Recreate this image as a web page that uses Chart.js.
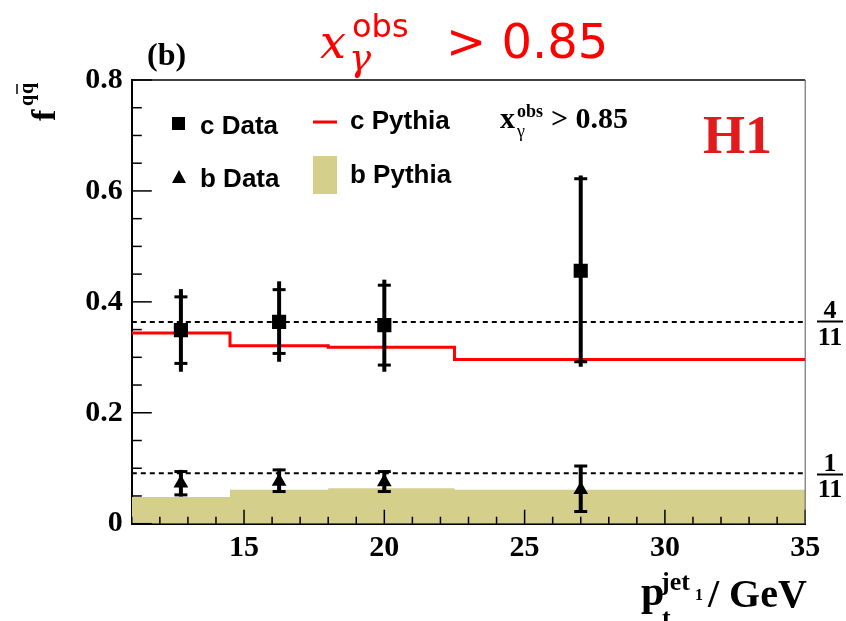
<!DOCTYPE html>
<html><head><meta charset="utf-8">
<script src="https://cdn.jsdelivr.net/npm/chart.js@4.4.0/dist/chart.umd.min.js"></script>
<style>html,body{margin:0;padding:0;background:#fff}#wrap{width:846px;height:621px;position:relative}</style>
</head><body><div id="wrap"><canvas id="c" width="846" height="621"></canvas></div>
<script>
// ---- data ----
const xTickLabels = [15, 20, 25, 30, 35];
const yTickLabels = [0, 0.2, 0.4, 0.6, 0.8];
const binEdges = [11, 14.5, 18, 22.5, 35];
const cPythia = [0.344, 0.321, 0.318, 0.296];
const bPythia = [0.048, 0.061, 0.064, 0.061];
const dataX = [12.75, 16.25, 20.0, 27.0];
const cData = [0.349, 0.364, 0.358, 0.456];
const cStatUp = [0.060, 0.058, 0.072, 0.166];
const cStatDn = [0.060, 0.057, 0.072, 0.164];
const cTotUp = [0.074, 0.073, 0.082, 0.172];
const cTotDn = [0.075, 0.072, 0.084, 0.173];
const bData = [0.073, 0.076, 0.075, 0.061];
const bStatUp = [0.021, 0.021, 0.019, 0.043];
const bStatDn = [0.021, 0.018, 0.017, 0.039];
const bTotUp = [0.024, 0.023, 0.021, 0.045];
const bTotDn = [0.024, 0.020, 0.019, 0.041];
const refLines = [4 / 11, 1 / 11];

const OLIVE = '#d4cf8a';
const SERIF = "'Liberation Serif','Times New Roman',serif";
const SANS = "'Liberation Sans',Arial,sans-serif";

// step histogram: value of bin i held from edge i to edge i+1
function hist(vals) {
  const out = [];
  for (let i = 0; i < vals.length; i++) {
    out.push({ x: binEdges[i], y: vals[i] });
    out.push({ x: binEdges[i + 1], y: vals[i] });
  }
  return out;
}
function pts(ys) { return dataX.map((x, i) => ({ x: x, y: ys[i] })); }
function refLine(v) { return [{ x: 11, y: v }, { x: 35, y: v }]; }

const deco = {
  id: 'deco',
  afterDatasetsDraw(chart) {
    const ctx = chart.ctx, xs = chart.scales.x, ys = chart.scales.y, a = chart.chartArea;
    ctx.save();
    function bars(vals, sU, sD, tU, tD) {
      ctx.strokeStyle = '#000';
      for (let i = 0; i < dataX.length; i++) {
        const px = xs.getPixelForValue(dataX[i]);
        ctx.lineWidth = 4;
        ctx.beginPath();
        ctx.moveTo(px, ys.getPixelForValue(vals[i] + tU[i]));
        ctx.lineTo(px, ys.getPixelForValue(vals[i] - tD[i]));
        ctx.stroke();
        ctx.lineWidth = 3;
        [vals[i] + sU[i], vals[i] - sD[i]].forEach(v => {
          const py = ys.getPixelForValue(v);
          ctx.beginPath(); ctx.moveTo(px - 6.5, py); ctx.lineTo(px + 6.5, py); ctx.stroke();
        });
      }
    }
    bars(cData, cStatUp, cStatDn, cTotUp, cTotDn);
    bars(bData, bStatUp, bStatDn, bTotUp, bTotDn);
    ctx.strokeStyle = '#000'; ctx.lineWidth = 1.5;
    for (let v = 11; v <= 35; v += 1) {
      const px = xs.getPixelForValue(v);
      const len = xTickLabels.includes(v) ? 14 : 7;
      ctx.beginPath(); ctx.moveTo(px, a.bottom); ctx.lineTo(px, a.bottom - len); ctx.stroke();
    }
    for (let k = 0; k <= 16; k++) {
      const v = k * 0.05;
      const py = ys.getPixelForValue(v);
      const len = (k % 4 === 0) ? 20 : 10;
      ctx.beginPath(); ctx.moveTo(a.left, py); ctx.lineTo(a.left + len, py); ctx.stroke();
    }
    ctx.lineWidth = 1.5; ctx.strokeStyle = '#000';
    ctx.beginPath(); ctx.moveTo(a.left, a.top); ctx.lineTo(a.right, a.top); ctx.stroke();
    ctx.lineWidth = 1; ctx.strokeStyle = '#555';
    ctx.beginPath(); ctx.moveTo(a.right, a.top); ctx.lineTo(a.right, a.bottom); ctx.stroke();
    ctx.restore();
  },
  afterDraw(chart) {
    const ctx = chart.ctx;
    ctx.save();
    ctx.textAlign = 'left'; ctx.textBaseline = 'alphabetic';
    function t(s, x, y, font, color) { ctx.font = font; ctx.fillStyle = color || '#000'; ctx.fillText(s, x, y); return ctx.measureText(s).width; }
    // red title
    t('x', 320, 58, "italic 46px 'DejaVu Serif','Liberation Serif',serif", '#ff0000');
    t('obs', 352, 37, "32px 'DejaVu Sans',sans-serif", '#ff0000');
    t('γ', 349, 70, "italic 37px 'DejaVu Serif','Liberation Serif',serif", '#ff0000');
    t('> 0.85', 446, 58, "48px 'DejaVu Sans',sans-serif", '#ff0000');
    t('(b)', 147, 65, 'bold 32px ' + SERIF);
    // legend
    ctx.fillStyle = '#000';
    ctx.fillRect(172, 117, 13, 13);
    t('c Data', 200, 134, 'bold 26px ' + SANS);
    ctx.strokeStyle = '#ff0000'; ctx.lineWidth = 3;
    ctx.beginPath(); ctx.moveTo(313, 122); ctx.lineTo(337, 122); ctx.stroke();
    t('c Pythia', 350, 129, 'bold 26px ' + SANS);
    ctx.fillStyle = '#000';
    ctx.beginPath(); ctx.moveTo(179, 170); ctx.lineTo(172, 183); ctx.lineTo(186, 183); ctx.closePath(); ctx.fill();
    t('b Data', 200, 187, 'bold 26px ' + SANS);
    ctx.fillStyle = OLIVE; ctx.fillRect(313, 156, 24, 38);
    t('b Pythia', 350, 183, 'bold 26px ' + SANS);
    t('x', 500, 128, 'bold 30px ' + SERIF);
    t('obs', 517, 117, 'bold 18px ' + SERIF);
    t('γ', 517, 137, '18px ' + SERIF);
    t('> 0.85', 551, 128, 'bold 30px ' + SERIF);
    t('H1', 703, 153, 'bold 54px ' + SERIF, '#e31a1c');
    ctx.textAlign = 'center';
    t('4', 830, 318, 'bold 26px ' + SERIF);
    t('11', 830, 345, 'bold 26px ' + SERIF);
    t('1', 830, 471, 'bold 26px ' + SERIF);
    t('11', 830, 497, 'bold 26px ' + SERIF);
    ctx.strokeStyle = '#000'; ctx.lineWidth = 2;
    ctx.beginPath(); ctx.moveTo(817, 321.5); ctx.lineTo(843, 321.5); ctx.stroke();
    ctx.beginPath(); ctx.moveTo(817, 474.5); ctx.lineTo(843, 474.5); ctx.stroke();
    ctx.textAlign = 'left';
    t('p', 641, 605, 'bold 42px ' + SERIF);
    t('jet', 661, 590, 'bold 26px ' + SERIF);
    t('1', 695, 600, 'bold 16px ' + SERIF);
    t('t', 662, 626, 'bold 26px ' + SERIF);
    t('/ GeV', 708, 607, 'bold 40px ' + SERIF);
    ctx.translate(55, 121);
    ctx.rotate(-Math.PI / 2);
    t('f', 0, 0, 'bold 34px ' + SERIF);
    t('q', 15, -22, 'bold 20px ' + SERIF);
    t('q', 27, -22, 'bold 20px ' + SERIF);
    ctx.strokeStyle = '#000'; ctx.lineWidth = 1.5;
    ctx.beginPath(); ctx.moveTo(27, -38); ctx.lineTo(37, -38); ctx.stroke();
    ctx.restore();
  }
};

const tickFont = { family: SERIF, size: 30, weight: 'bold' };

new Chart(document.getElementById('c'), {
  type: 'line',
  data: {
    datasets: [
      { label: 'c Data', data: pts(cData), showLine: false, pointStyle: 'rect', pointRadius: 10, pointBackgroundColor: '#000', pointBorderWidth: 0, order: 0 },
      { label: 'b Data', data: pts(bData), showLine: false, pointStyle: 'triangle', pointRadius: 8.5, pointBackgroundColor: '#000', pointBorderWidth: 0, order: 0 },
      { label: '4/11', data: refLine(refLines[0]), borderColor: '#000', borderWidth: 2, borderDash: [5, 4], pointRadius: 0, fill: false, order: 2 },
      { label: '1/11', data: refLine(refLines[1]), borderColor: '#000', borderWidth: 2, borderDash: [5, 4], pointRadius: 0, fill: false, order: 2 },
      { label: 'c Pythia', data: hist(cPythia), borderColor: '#ff0000', borderWidth: 3, pointRadius: 0, fill: false, order: 3 },
      { label: 'b Pythia', data: hist(bPythia), borderColor: OLIVE, borderWidth: 0, backgroundColor: OLIVE, pointRadius: 0, fill: 'origin', order: 4 }
    ]
  },
  options: {
    responsive: false, animation: false,
    layout: { padding: { left: 0, right: 40.8, top: 80, bottom: 0 } },
    plugins: { legend: { display: false }, tooltip: { enabled: false } },
    scales: {
      x: {
        type: 'linear', min: 11, max: 35,
        afterFit(s) { s.height = 97.3; },
        afterBuildTicks(s) { s.ticks = xTickLabels.map(v => ({ value: v })); },
        ticks: { font: tickFont, color: '#000', padding: 7, maxRotation: 0, autoSkip: false },
        grid: { display: false, drawTicks: false },
        border: { display: true, color: '#000', width: 2 }
      },
      y: {
        type: 'linear', min: 0, max: 0.8,
        afterFit(s) { s.width = 131.8; },
        afterBuildTicks(s) { s.ticks = yTickLabels.map(v => ({ value: v })); },
        ticks: { font: tickFont, color: '#000', padding: 9, callback: v => String(v) },
        grid: { display: false, drawTicks: false },
        border: { display: true, color: '#000', width: 2 }
      }
    }
  },
  plugins: [deco]
});
</script></body></html>
